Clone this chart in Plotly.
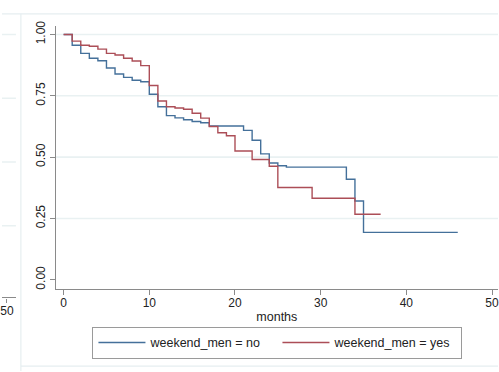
import plotly.graph_objects as go

# Kaplan-Meier survivor estimates by group (time in months)
no_times = [0, 1, 2, 3, 4, 5, 6, 7, 8, 9, 10, 11, 12, 13, 14, 15, 16, 17,
            21, 22, 23, 24, 25, 26, 33, 34, 35, 46]
no_surv = [1.0, 0.956, 0.923, 0.903, 0.893, 0.863, 0.839, 0.825, 0.813, 0.807,
           0.756, 0.705, 0.669, 0.660, 0.652, 0.645, 0.640, 0.627,
           0.609, 0.569, 0.513, 0.476, 0.465, 0.459, 0.410, 0.321, 0.193, 0.193]

yes_times = [0, 1, 2, 3, 4, 5, 6, 7, 8, 9, 10, 11, 12, 13, 14, 15, 16, 17,
             18, 19, 20, 22, 24, 25, 29, 34, 37]
yes_surv = [1.0, 0.973, 0.956, 0.952, 0.940, 0.923, 0.916, 0.903, 0.892, 0.873,
            0.792, 0.729, 0.705, 0.700, 0.695, 0.679, 0.659, 0.625,
            0.599, 0.587, 0.525, 0.490, 0.463, 0.376, 0.332, 0.267, 0.267]

x_ticks = [0, 10, 20, 30, 40, 50]
y_ticks = [0.0, 0.25, 0.5, 0.75, 1.0]
y_tick_text = ["0.00", "0.25", "0.50", "0.75", "1.00"]
grid_vals = [0.25, 0.5, 0.75, 1.0]

W, H = 499, 372
FONT = "Liberation Sans, Arial, sans-serif"
AXIS_COL = "#8a8a8a"
GRID_COL = "#e9f1f2"
BLUE = "#44709a"
RED = "#ac4e57"


def px_x(p):
    return p / W


def px_y(p):
    return (H - p) / H


fig = go.Figure()

fig.add_trace(go.Scatter(
    x=no_times, y=no_surv, mode="lines", line_shape="hv",
    line=dict(color=BLUE, width=1.4), name="weekend_men = no",
    xaxis="x", yaxis="y"))
fig.add_trace(go.Scatter(
    x=yes_times, y=yes_surv, mode="lines", line_shape="hv",
    line=dict(color=RED, width=1.4), name="weekend_men = yes",
    xaxis="x", yaxis="y"))

# edge of the neighbouring panel on the left
fig.add_trace(go.Scatter(x=[50], y=[-1], mode="markers", marker=dict(opacity=0),
                         showlegend=False, hoverinfo="skip",
                         xaxis="x2", yaxis="y2"))

shapes = []
for g in grid_vals:
    shapes.append(dict(type="line", xref="x domain", yref="y", x0=0, x1=1,
                       y0=g, y1=g, layer="below",
                       line=dict(color=GRID_COL, width=1.6)))
    shapes.append(dict(type="line", xref="x2 domain", yref="y2", x0=0, x1=1,
                       y0=g, y1=g, layer="below",
                       line=dict(color=GRID_COL, width=1.6)))

# graph region outlines
shapes.append(dict(type="line", xref="paper", yref="paper",
                   x0=0, x1=1, y0=px_y(8), y1=px_y(8),
                   line=dict(color="#e6eef0", width=1.2), layer="below"))
shapes.append(dict(type="line", xref="paper", yref="paper",
                   x0=px_x(19), x1=px_x(19), y0=px_y(8), y1=0,
                   line=dict(color="#e6eef0", width=1.2), layer="below"))
shapes.append(dict(type="line", xref="paper", yref="paper",
                   x0=px_x(19), x1=1, y0=px_y(367), y1=px_y(367),
                   line=dict(color="#e6eef0", width=1.2), layer="below"))

s_x = 8.62
x0_px = 62
xr = [(54 - x0_px) / s_x, (W - x0_px) / s_x]
yr = [(279 - 288) / 250, (279 - 20.7) / 250]

fig.update_layout(
    width=W, height=H,
    margin=dict(l=0, r=0, t=0, b=0),
    paper_bgcolor="white", plot_bgcolor="white",
    font=dict(family=FONT, size=12, color="#222"),
    shapes=shapes,
    xaxis=dict(domain=[px_x(54), 1], range=xr, tickvals=x_ticks,
               showgrid=False, zeroline=False, showline=True,
               linecolor=AXIS_COL, linewidth=1.2,
               ticks="outside", ticklen=5, tickcolor=AXIS_COL, tickwidth=1,
               tickfont=dict(size=12), ticklabeloverflow="allow",
               ticklabelstandoff=-2,
               title=dict(text="months", font=dict(size=12.5), standoff=3),
               anchor="y"),
    yaxis=dict(domain=[px_y(288), px_y(20.7)], range=yr,
               tickvals=y_ticks, ticktext=y_tick_text, tickangle=-90,
               showgrid=False, zeroline=False, showline=True,
               linecolor=AXIS_COL, linewidth=1.2,
               ticks="outside", ticklen=5, tickcolor=AXIS_COL, tickwidth=1,
               tickfont=dict(size=12), anchor="x"),
    xaxis2=dict(domain=[0, px_x(14)],
                range=[50 - 5 / s_x, 50 + 9 / s_x], tickvals=[50],
                showgrid=False, zeroline=False, showline=True,
                linecolor=AXIS_COL, linewidth=1.2,
                ticks="outside", ticklen=4, tickcolor=AXIS_COL,
                tickfont=dict(size=12), ticklabeloverflow="allow",
                ticklabelstandoff=-2, anchor="y2"),
    yaxis2=dict(domain=[px_y(297), px_y(20)],
                range=[(289 - 297) / 260, (289 - 20) / 260],
                showgrid=False, zeroline=False, showline=False,
                showticklabels=False, ticks="", anchor="x2"),
    legend=dict(orientation="h", x=px_x(91), y=px_y(327),
                xanchor="left", yanchor="top",
                bordercolor="#9a9a9a", borderwidth=1,
                font=dict(size=12.5), itemwidth=47,
                entrywidth=122, entrywidthmode="pixels", tracegroupgap=0),
    showlegend=True,
)

fig.write_html("out.html")
